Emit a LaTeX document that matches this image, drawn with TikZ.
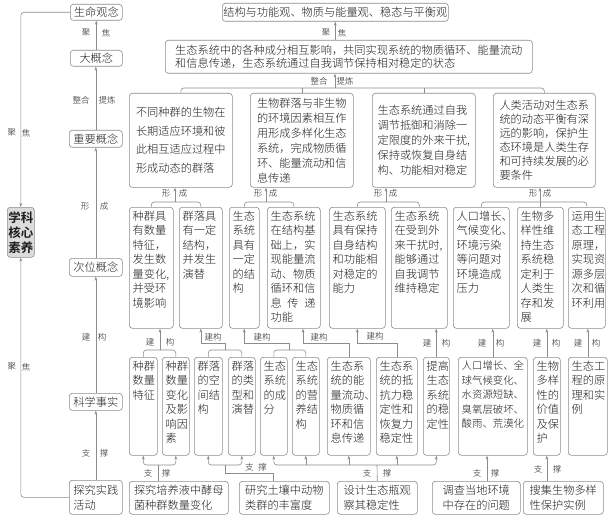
\documentclass[tikz,border=0pt]{standalone}
\usepackage{fontspec}
\setmainfont{Noto Sans CJK SC}[UprightFont=* Light, BoldFont=* Bold]
\usetikzlibrary{arrows.meta}
\definecolor{ln}{HTML}{8C8C8C}
\definecolor{tx}{HTML}{1E1E1E}
\definecolor{kf}{HTML}{DCDCDC}
\tikzset{
  bx/.style={draw=ln, line width=0.6pt, rounded corners=3pt, inner sep=0pt, anchor=north west},
  txt/.style={inner sep=0pt, text=tx, align=left, font=\fontsize{11.2}{14.5}\selectfont},
  lab/.style={inner sep=0pt, text=tx, font=\fontsize{8.5}{9}\selectfont},
  cn/.style={draw=ln, line width=0.6pt},
  ar/.style={cn, -{Stealth[length=4pt,width=2.8pt]}},
  rc/.style={rounded corners=3pt},
}
\newcommand\mkbox[5]{\node[bx, minimum width={(#4-#2)*1pt}, minimum height={(#5-#3)*1pt}] (#1) at (#2,#3) {};}
\newcommand\ctext[3]{\node[txt,#2] (#1t) at (#1.center) {#3};}
\newcommand\ttext[3]{\node[txt,anchor=north west,#2] (#1t) at ([xshift=3.5pt,yshift=-3.8pt]#1.north west) {#3};}
\newcommand\lab[4]{\node[lab] (#1) at (#2,#3) {#4};}
\begin{document}
\begin{tikzpicture}[x=1pt,y=-1pt]
\path[use as bounding box, fill=white] (0,0) rectangle (614,519);

% left column
\mkbox{L1}{70}{4}{122}{20} \ctext{L1}{}{生命观念}
\mkbox{L2}{70}{50}{122}{66} \ctext{L2}{}{大概念}
\mkbox{L3}{69}{130}{122}{147} \ctext{L3}{}{重要概念}
\mkbox{L4}{69}{258}{122}{276} \ctext{L4}{}{次位概念}
\mkbox{L5}{69}{393}{122}{410} \ctext{L5}{}{科学事实}
\mkbox{L6}{69}{480}{122}{514} \ctext{L6}{font=\fontsize{11.2}{15}\selectfont}{探究实践\\活动}
\node[bx, fill=kf, minimum width=27pt, minimum height=50pt] (K) at (7,207) {};
\node[txt, align=center, font=\fontsize{12.5}{15}\selectfont\bfseries] (Kt) at (K.center) {学科\\核心\\素养};

% top right
\mkbox{TT}{222}{3}{448}{21} \ctext{TT}{}{结构与功能观、物质与能量观、稳态与平衡观}
\mkbox{BB}{165}{40}{532}{73} \ctext{BB}{font=\fontsize{11.2}{13.5}\selectfont}{生态系统中的各种成分相互影响，共同实现系统的物质循环、能量流动\\和信息传递，生态系统通过自我调节保持相对稳定的状态}

% top row
\mkbox{T1}{129}{93}{232}{187} \ctext{T1}{font=\fontsize{11.2}{18.5}\selectfont}{不同种群的生物在\\长期适应环境和彼\\此相互适应过程中\\形成动态的群落}
\mkbox{T2}{250}{93}{353}{187} \ctext{T2}{font=\fontsize{11.2}{15}\selectfont}{生物群落与非生物\\的环境因素相互作\\用形成多样化生态\\系统，完成物质循\\环、能量流动和信\\息传递}
\mkbox{T3}{372}{93}{475}{187} \ctext{T3}{font=\fontsize{11.2}{15}\selectfont}{生态系统通过自我\\调节抵御和消除一\\定限度的外来干扰,\\保持或恢复自身结\\构、功能相对稳定}
\mkbox{T4}{493}{93}{595}{187} \ctext{T4}{font=\fontsize{11.2}{14}\selectfont}{人类活动对生态系\\统的动态平衡有深\\远的影响，保护生\\态环境是人类生存\\和可持续发展的必\\要条件}

% middle row
\mkbox{M1}{129}{207}{173}{328} \ttext{M1}{}{种群具\\有数量\\特征，\\发生数\\量变化,\\并受环\\境影响}
\mkbox{M2}{179}{207}{222}{328} \ttext{M2}{}{群落具\\有一定\\结构，\\并发生\\演替}
\mkbox{M3}{229}{207}{259}{328} \ttext{M3}{}{生态\\系统\\具有\\一定\\的结\\构}
\mkbox{M4}{267}{207}{320}{328} \ttext{M4}{}{生态系统\\在结构基\\础上，实\\现能量流\\动、物质\\循环和信\\息\hspace{0.5em}传\hspace{0.5em}递\\功能}
\mkbox{M5}{329}{207}{385}{328} \ttext{M5}{}{生态系统\\具有保持\\自身结构\\和功能相\\对稳定的\\能力}
\mkbox{M6}{391}{207}{447}{328} \ttext{M6}{}{生态系统\\在受到外\\来干扰时,\\能够通过\\自我调节\\维持稳定}
\mkbox{M7}{453}{207}{509}{328} \ttext{M7}{}{人口增长、\\气候变化、\\环境污染\\等问题对\\环境造成\\压力}
\mkbox{M8}{517}{207}{563}{328} \ttext{M8}{}{生物多\\样性维\\持生态\\系统稳\\定利于\\人类生\\存和发\\展}
\mkbox{M9}{568}{207}{605}{328} \ttext{M9}{}{运用生\\态工程\\原理，\\实现资\\源多层\\次和循\\环利用}

% bottom row
\mkbox{B1}{129}{357}{157}{455} \ttext{B1}{}{种群\\数量\\特征}
\mkbox{B2}{162}{357}{189}{455} \ttext{B2}{}{种群\\数量\\变化\\及影\\响因\\素}
\mkbox{B3}{194}{357}{222}{455} \ttext{B3}{}{群落\\的空\\间结\\构}
\mkbox{B4}{228}{357}{255}{455} \ttext{B4}{}{群落\\的类\\型和\\演替}
\mkbox{B5}{260}{357}{287}{455} \ttext{B5}{}{生态\\系统\\的成\\分}
\mkbox{B6}{292}{357}{319}{455} \ttext{B6}{}{生态\\系统\\的营\\养结\\构}
\mkbox{B7}{327}{357}{370}{455} \ttext{B7}{}{生态系\\统的能\\量流动、\\物质循\\环和信\\息传递}
\mkbox{B8}{376}{357}{417}{455} \ttext{B8}{}{生态系\\统的抵\\抗力稳\\定性和\\恢复力\\稳定性}
\mkbox{B9}{423}{357}{449}{455} \ttext{B9}{}{提高\\生态\\系统\\的稳\\定性}
\mkbox{B10}{458}{357}{527}{455} \ttext{B10}{font=\fontsize{10.4}{14.5}\selectfont}{人口增长、全\\球气候变化、\\水资源短缺、\\臭氧层破坏、\\酸雨、荒漠化}
\mkbox{B11}{533}{357}{560}{455} \ttext{B11}{}{生物\\多样\\性的\\价值\\及保\\护}
\mkbox{B12}{568}{357}{607}{455} \ttext{B12}{}{生态工\\程的原\\理和实\\例}

% activity row
\mkbox{E1}{129}{481}{228}{514} \ctext{E1}{font=\fontsize{11.2}{15}\selectfont}{探究培养液中酵母\\菌种群数量变化}
\mkbox{E2}{239}{481}{329}{514} \ctext{E2}{font=\fontsize{11.2}{15}\selectfont}{研究土壤中动物\\类群的丰富度}
\mkbox{E3}{337}{481}{417}{514} \ctext{E3}{font=\fontsize{11.2}{15}\selectfont}{设计生态瓶观\\察其稳定性}
\mkbox{E4}{432}{481}{520}{514} \ctext{E4}{font=\fontsize{11.2}{15}\selectfont}{调查当地环境\\中存在的问题}
\mkbox{E5}{523}{481}{603}{514} \ctext{E5}{font=\fontsize{11.2}{15}\selectfont}{搜集生物多样\\性保护实例}

% left column connectors
\draw[ar] (L2.north) -- (L2.north |- L1.south);
\draw[ar] (L3.north) -- (L3.north |- L2.south);
\draw[ar] (L4.north) -- (L4.north |- L3.south);
\draw[ar] (L5.north) -- (L5.north |- L4.south);
\draw[ar] (L6.north) -- (L6.north |- L5.south);
\draw[ar,rc] (L1.west) -| (K.north);
\draw[ar,rc] (L6.west) -| (K.south);

% top right connectors
\draw[ar] (TT.south |- BB.north) -- (TT.south);
\coordinate (J1) at (335,88);
\draw[cn,rc] (T1.north) |- (J1) -| (T4.north);
\draw[cn] (T2.north) -- (T2.north |- J1);
\draw[cn] (T3.north) -- (T3.north |- J1);
\draw[ar] (J1) -- (J1 |- BB.south);

% top row -> middle row
\coordinate (J2) at (175,202);
\draw[cn,rc] (M1.north) |- (J2) -| (M2.north);
\draw[ar] (J2) -- (J2 |- T1.south);
\coordinate (J3) at (266,202);
\draw[cn,rc] (M3.north) |- (J3) -| (M4.north);
\draw[ar] (J3) -- (J3 |- T2.south);
\coordinate (J4) at (386,202);
\draw[cn,rc] (M5.north) |- (J4) -| (M6.north);
\draw[ar] (J4) -- (J4 |- T3.south);
\coordinate (J5) at (540,202);
\draw[cn,rc] (M7.north) |- (J5) -| (M9.north);
\draw[cn] (M8.north) -- (M8.north |- J5);
\draw[ar] (J5) -- (J5 |- T4.south);

% middle row -> bottom row
\coordinate (H1) at (0,343);
\coordinate (J6) at (160,350);
\draw[cn,rc] (B1.north) |- (J6) -| (B2.north);
\draw[ar] (J6) -- (J6 |- M1.south);
\coordinate (J7) at (225,350);
\draw[cn,rc] (B3.north) |- (J7) -| (B4.north);
\draw[ar] (J7) -- (J7 |- H1) -| (M2.south);
\coordinate (J8) at (289.5,350);
\draw[cn,rc] (B5.north) |- (J8) -| (B6.north);
\draw[ar] (J8) -- (J8 |- H1) -| (M3.south);
\coordinate (S4) at (303,0);
\draw[ar] (B7.north) -- (B7.north |- H1) -- (S4 |- H1) -- (S4 |- M4.south);
\draw[ar] (B8.north) -- (B8.north |- H1) -| (M5.south);
\draw[ar] (B9.north) -- (B9.north |- M6.south);
\draw[ar] (B10.north) -- (B10.north |- M7.south);
\draw[ar] (B11.north) -- (B11.north |- M8.south);
\draw[ar] (B12.north) -- (B12.north |- M9.south);

% activity row -> bottom row
\coordinate (H2) at (0,473);
\coordinate (J9) at (158,465);
\draw[ar,rc] (J9) -| (B1.south);
\draw[ar,rc] (J9) -| (B2.south);
\draw[cn] (J9 |- E1.north) -- (J9);
\coordinate (J10) at (225,465);
\draw[ar,rc] (J10) -| (B3.south);
\draw[ar,rc] (J10) -| (B4.south);
\coordinate (S2) at (273,0);
\draw[cn] (S2 |- E2.north) -- (S2 |- H2) -- (J10 |- H2) -- (J10);
\coordinate (J11) at (377,465);
\draw[ar,rc] (J11) -| (B5.south);
\draw[ar,rc] (J11) -| (B9.south);
\draw[ar] (B6.south |- J11) -- (B6.south);
\draw[ar] (B7.south |- J11) -- (B7.south);
\draw[ar] (B8.south |- J11) -- (B8.south);
\draw[cn] (E3.north) -- (J11);
\coordinate (S3) at (487,0);
\draw[ar] (S3 |- E4.north) -- (S3 |- B10.south);
\draw[ar] (B11.south |- E5.north) -- (B11.south);

% labels
\lab{a1}{86}{33}{聚} \lab{a2}{106}{33}{焦}
\lab{a3}{81}{100}{整合} \lab{a4}{107}{100}{提炼}
\lab{a5}{85}{206}{形} \lab{a6}{104}{206}{成}
\lab{a7}{86}{337}{建} \lab{a8}{102}{337}{构}
\lab{a9}{86}{453}{支} \lab{a10}{104}{453}{撑}
\lab{a11}{12}{133}{聚} \lab{a12}{26}{133}{焦}
\lab{a13}{12}{367}{聚} \lab{a14}{26}{367}{焦}
\lab{b1}{326}{33}{聚} \lab{b2}{342}{33}{焦}
\lab{b3}{319}{81}{整合} \lab{b4}{345}{81}{提炼}
\lab{c1}{166}{193}{形} \lab{c2}{183}{193}{成}
\lab{c3}{258}{193}{形} \lab{c4}{273}{193}{成}
\lab{c5}{378}{193}{形} \lab{c6}{393}{193}{成}
\lab{c7}{533}{193}{形} \lab{c8}{547}{193}{成}
\lab{d1}{150}{342}{建} \lab{d2}{170}{342}{构}
\lab{d3}{213}{337}{建构}
\lab{d4}{262}{337}{建构}
\lab{d5}{319}{337}{建构}
\lab{d6}{375}{336}{建构}
\lab{d7}{427}{343}{建} \lab{d8}{446}{343}{构}
\lab{d9}{482}{343}{建} \lab{d10}{500}{343}{构}
\lab{d11}{537}{343}{建} \lab{d12}{556}{343}{构}
\lab{d13}{578}{343}{建} \lab{d14}{596}{343}{构}
\lab{e1}{148}{473}{支} \lab{e2}{166}{473}{撑}
\lab{e3}{256}{467}{支\hspace{5pt}撑}
\lab{e4}{367}{473}{支} \lab{e5}{387}{473}{撑}
\lab{e6}{477}{473}{支} \lab{e7}{495}{473}{撑}
\lab{e8}{538}{469}{支} \lab{e9}{557}{469}{撑}
\end{tikzpicture}
\end{document}
